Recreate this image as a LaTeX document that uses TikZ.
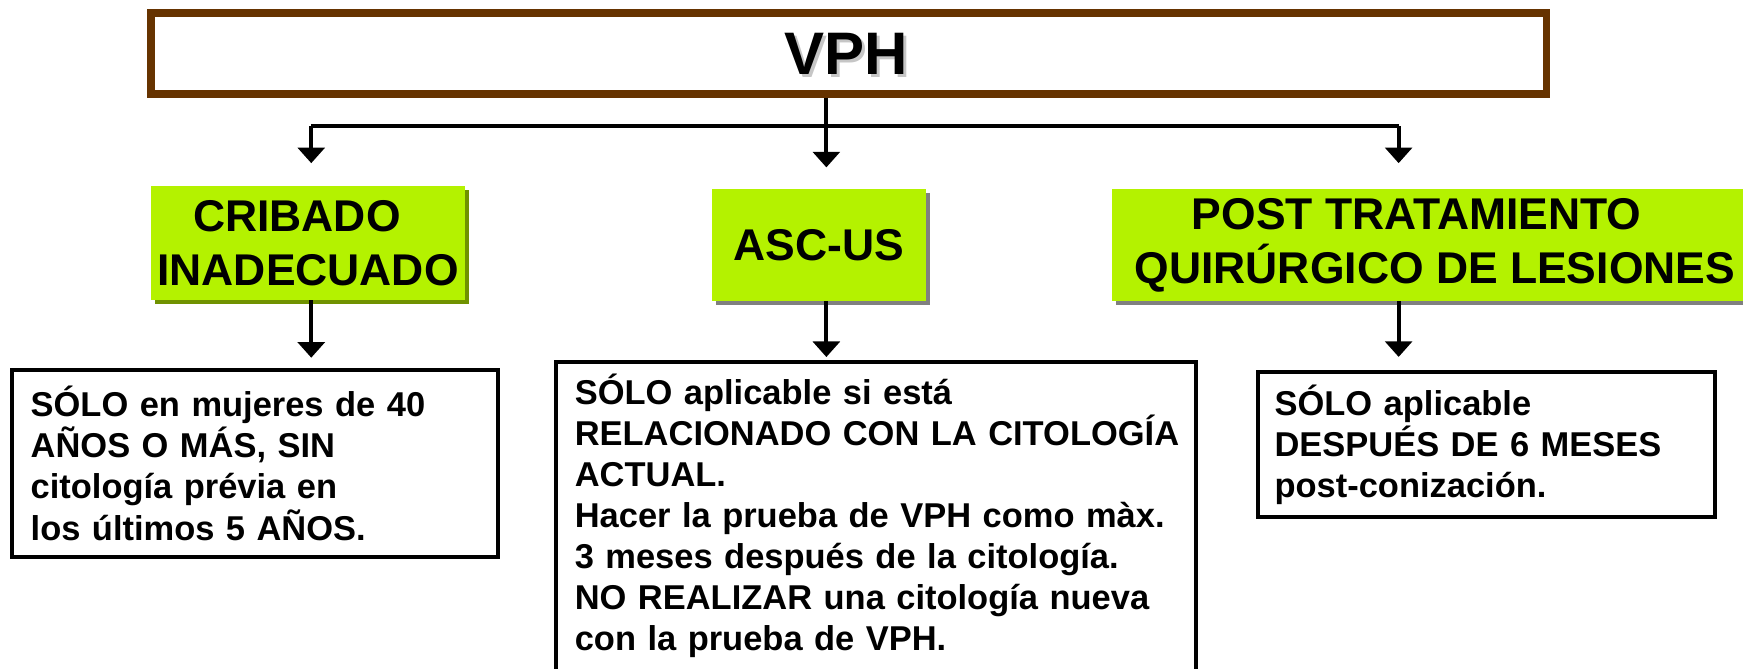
\documentclass[tikz,border=0pt]{standalone}
\usepackage{fontspec}
\setmainfont{Liberation Sans}
\usetikzlibrary{arrows.meta,shadows}
\definecolor{marron}{RGB}{102,51,0}
\definecolor{lima}{RGB}{180,242,0}
\definecolor{oliva}{RGB}{112,146,0}
\begin{document}
\begin{tikzpicture}[x=1pt,y=-1pt,
  cabecera/.style={draw=marron,line width=6.75pt,minimum width=1255.7pt,minimum height=72.7pt,inner sep=0pt},
  titulo/.style={font=\fontsize{54}{60}\bfseries\selectfont},
  tema/.style={fill=lima,inner sep=0pt,align=center,minimum height=100.2pt,
    font=\fontsize{40}{48.5}\bfseries\selectfont,
    drop shadow={shadow xshift=3.6pt,shadow yshift=-3.6pt,fill=gray,opacity=1}},
  nota/.style={draw,line width=3.6pt,align=left,anchor=north west,
    font=\fontsize{31}{37}\bfseries\selectfont},
  flecha/.style={line width=3.6pt,-{Triangle[width=24pt,length=14pt]}}]
\useasboundingbox (0,0) rectangle (1568,601);
\node[cabecera] (vph) at (763.5,48.15) {};
\node[titulo,text=gray!45] (vphsombra) at (764,50.7) {VPH};
\node[titulo] (vphtexto) at (761.5,48.7) {VPH};
\node[tema,minimum width=281.8pt,minimum height=102.7pt,
  drop shadow={shadow xshift=3.6pt,shadow yshift=-3.6pt,fill=oliva,opacity=1}]
  (cribado) at (277.1,218.65) {CRIBADO\kern20pt\\INADECUADO};
\node[tema,minimum width=192.8pt] (ascus) at (736.6,220.4) {ASC-US};
\node[tema,minimum width=580.4pt] (post) at (1290.8,220.4) {POST TRATAMIENTO\kern33pt\\QUIR\'URGICO DE LESIONES};
\node[nota,inner xsep=16.5pt,text width=403.9pt,minimum height=168.4pt] (infoA) at (9.3,330.8)
  {S\'OLO en mujeres de 40\\A\~NOS O M\'AS, SIN\\citolog\'ia pr\'evia en\\los \'ultimos 5 A\~NOS.};
\node[nota,inner xsep=16.5pt,inner ysep=10pt,text width=542.4pt] (infoB) at (498.8,324.2)
  {S\'OLO aplicable si est\'a\\\mbox{RELACIONADO CON LA CITOLOG\'IA}\\ACTUAL.\\Hacer la prueba de VPH como m\`ax.\\3 meses despu\'es de la citolog\'ia.\\NO REALIZAR una citolog\'ia nueva\\con la prueba de VPH.\rule[-30pt]{0pt}{30pt}};
\node[nota,inner xsep=15.2pt,text width=381pt,minimum height=129.9pt] (infoC) at (1129.6,333.1)
  {S\'OLO aplicable\\DESPU\'ES DE 6 MESES\\post-conizaci\'on.};
\coordinate (colA) at (280,113.4);
\coordinate (colB) at (743.4,113.4);
\coordinate (colC) at (1258.2,113.4);
\draw[line width=3.6pt] (colA) -- (colC);
\draw[flecha,shorten >=19.5pt] (vph.south -| colB) -- (ascus.north -| colB);
\draw[flecha,shorten >=20.3pt] (colA) -- (cribado.north -| colA);
\draw[flecha,shorten >=23.3pt] (colC) -- (post.north -| colC);
\draw[flecha,shorten >=9pt] (cribado.south -| colA) -- (infoA.north -| colA);
\draw[flecha,shorten >=3pt] (ascus.south -| colB) -- (infoB.north -| colB);
\draw[flecha,shorten >=12pt] (post.south -| colC) -- (infoC.north -| colC);
\end{tikzpicture}
\end{document}
